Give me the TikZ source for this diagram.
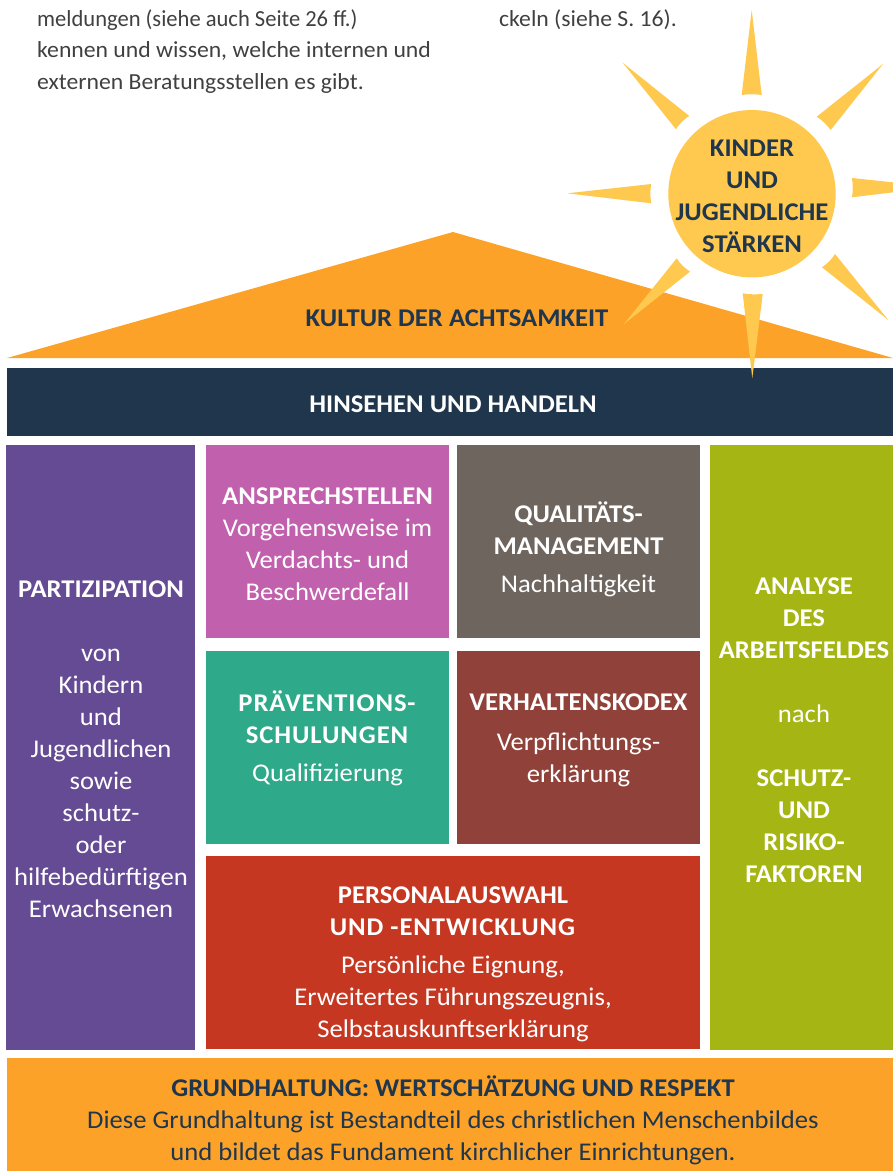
\documentclass[tikz,border=0pt]{standalone}
\usepackage{fontspec}
\setmainfont{Carlito}[FakeStretch=1.045]
\newfontfamily\bodyfont{Carlito}[FakeStretch=1.03]
\newfontfamily\bodyfontB{Carlito}[FakeStretch=0.98]
\definecolor{navy}{HTML}{1F364D}
\definecolor{orangeA}{HTML}{FCA229}
\definecolor{sunY}{HTML}{FFC94F}
\definecolor{purpleA}{HTML}{654A94}
\definecolor{pinkA}{HTML}{C160AD}
\definecolor{grayA}{HTML}{6E655E}
\definecolor{tealA}{HTML}{2EA98A}
\definecolor{brownA}{HTML}{90423A}
\definecolor{redA}{HTML}{C63722}
\definecolor{oliveA}{HTML}{A5B513}
\definecolor{bodyT}{HTML}{404040}
\newcommand{\spaced}[1]{\textbf{\addfontfeature{LetterSpace=3.7}#1}}
\tikzset{
  x=1pt,y=-1pt,
  box/.style={rectangle,inner sep=0pt,outer sep=0pt,draw=none},
  wt/.style={align=center,text=white,font=\fontsize{25.5}{32}\selectfont,inner sep=0pt},
  dt/.style={align=center,text=navy,font=\fontsize{25.5}{32}\selectfont,inner sep=0pt},
  body/.style={anchor=base west,text=bodyT,font=\bodyfont\fontsize{23}{32}\selectfont,inner sep=0pt},
  ray/.style={fill=sunY,draw=none}
}
\begin{document}
\begin{tikzpicture}
\useasboundingbox (0,0) rectangle (893,1171);
% top text
\node[body,font=\bodyfontB\fontsize{23}{32}\selectfont] (t1) at (37,26) {meldungen (siehe auch Seite 26 ff.)};
\node[body] (t2) at (37,57) {kennen und wissen, welche internen und};
\node[body] (t3) at (37,89) {externen Beratungsstellen es gibt.};
\node[body] (t4) at (499,26) {ckeln (siehe S. 16).};
% roof
\fill[orangeA] (7,358) -- (453,232) -- (893,358) -- cycle;
\node[dt] (roof) at (457,318) {\textbf{KULTUR DER ACHTSAMKEIT}};
% navy bar
\node[box,fill=navy,minimum width=886pt,minimum height=68pt] (bar) at (450,402) {};
\node[wt] (barT) at (453,404) {\textbf{HINSEHEN UND HANDELN}};
% sun
\node[circle,fill=sunY,minimum size=167.4pt,inner sep=0pt] (sun) at (752,193.7) {};
\begin{scope}
\clip (0,0) rectangle (893,1171);
\fill[ray] (751.7,10) -- (761.7,95) .. controls (755,94) and (748,94) .. (741.7,95) -- cycle;
\fill[ray] (883,64) -- (830.7,130) .. controls (827,125) and (822,120) .. (816.7,116.7) -- cycle;
\fill[ray] (622.7,62.7) -- (689.3,116) .. controls (684,119) and (679,124) .. (676,129.3) -- cycle;
\fill[ray] (567.3,193.3) -- (651.3,184) .. controls (650,190) and (650,197) .. (651.3,203.3) -- cycle;
\fill[ray] (937,187) -- (852,178) .. controls (853,184) and (853,191) .. (852,197.3) -- cycle;
\fill[ray] (888.3,320) -- (822,267.3) .. controls (827,264) and (832,259) .. (835,254) -- cycle;
\fill[ray] (752.3,378.3) -- (742.7,293.3) .. controls (749,294.5) and (756,294.5) .. (762.7,294) -- cycle;
\fill[ray] (624,324) -- (676.7,258.3) .. controls (680,264) and (685,268) .. (690,271.7) -- cycle;
\end{scope}
\node[dt] (sunT) at (752,196.5) {\textbf{KINDER}\\\textbf{UND}\\\textbf{JUGENDLICHE}\\\textbf{STÄRKEN}};
% boxes
\node[box,fill=purpleA,minimum width=189pt,minimum height=605pt] (part) at (100.5,747.5) {};
\node[wt] (partT) at (101,749) {\textbf{PARTIZIPATION}\\[32pt]von\\Kindern\\und\\Jugendlichen\\sowie\\schutz-\\oder\\hilfebedürftigen\\Erwachsenen};
\node[box,fill=pinkA,minimum width=243pt,minimum height=193pt] (ans) at (327.5,541.5) {};
\node[wt] (ansT) at (327.5,544) {\textbf{ANSPRECHSTELLEN}\\Vorgehensweise im\\Verdachts- und\\Beschwerdefall};
\node[box,fill=grayA,minimum width=243pt,minimum height=193pt] (qual) at (578.5,541.5) {};
\node[wt] (qualT) at (578.5,549) {\textbf{QUALITÄTS-}\\\textbf{MANAGEMENT}\\[6pt]Nachhaltigkeit};
\node[box,fill=tealA,minimum width=243pt,minimum height=193pt] (prae) at (327.5,747.5) {};
\node[wt] (praeT) at (327.5,738) {\spaced{PRÄVENTIONS-}\\\spaced{SCHULUNGEN}\\[6pt]Qualifizierung};
\node[box,fill=brownA,minimum width=243pt,minimum height=193pt] (verh) at (578.5,747.5) {};
\node[wt] (verhT) at (578.5,740) {\textbf{VERHALTENSKODEX}\\[8pt]Verpflichtungs-\\erklärung};
\node[box,fill=redA,minimum width=494pt,minimum height=193pt] (pers) at (453,952.5) {};
\node[wt] (persT) at (453,964.5) {\textbf{PERSONALAUSWAHL}\\\spaced{UND -ENTWICKLUNG}\\[6pt]Persönliche Eignung,\\Erweitertes Führungszeugnis,\\Selbstauskunftserklärung};
\node[box,fill=oliveA,minimum width=183pt,minimum height=605pt] (anal) at (801.5,747.5) {};
\node[wt] (analT) at (804,730) {\textbf{ANALYSE}\\\textbf{DES}\\\textbf{ARBEITSFELDES}\\[32pt]nach\\[32pt]\textbf{SCHUTZ-}\\\textbf{UND}\\\textbf{RISIKO-}\\\textbf{FAKTOREN}};
\node[box,fill=orangeA,minimum width=886pt,minimum height=113pt] (grund) at (450,1114.5) {};
\node[dt] (grundT) at (453,1120) {\textbf{GRUNDHALTUNG: WERTSCHÄTZUNG UND RESPEKT}\\Diese Grundhaltung ist Bestandteil des christlichen Menschenbildes\\und bildet das Fundament kirchlicher Einrichtungen.};
\end{tikzpicture}
\end{document}
